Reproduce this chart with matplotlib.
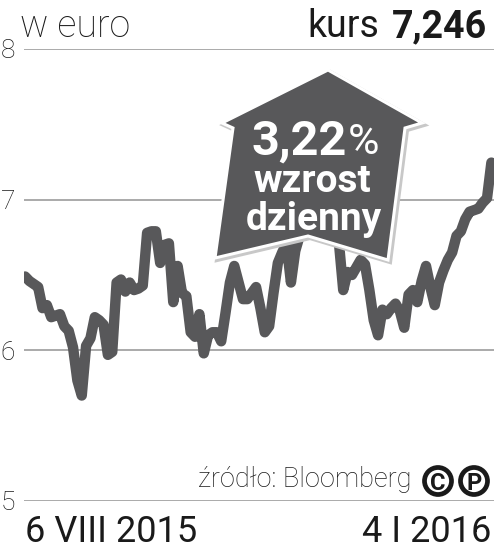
"""
Kurs dzienny (w euro) z okresu 6 VIII 2015 - 4 I 2016
"""

import matplotlib
matplotlib.use('Agg')
import matplotlib.pyplot as plt
import numpy as np
import pandas as pd
from matplotlib import font_manager
from matplotlib.patches import Polygon, Circle

plt.rcParams['font.family'] = ['Roboto', 'DejaVu Sans']

# dane
start_date = '2015-08-06'
end_date = '2016-01-04'
values = [
    6.49, 6.46, 6.44, 6.42, 6.28, 6.30, 6.22, 6.23, 6.24, 6.16,
    6.13, 6.02, 5.80, 5.70, 6.03, 6.08, 6.22, 6.20, 6.17, 5.97,
    5.99, 6.45, 6.47, 6.39, 6.45, 6.40, 6.41, 6.43, 6.78, 6.79,
    6.79, 6.58, 6.70, 6.71, 6.32, 6.56, 6.38, 6.36, 6.12, 6.09,
    6.24, 5.98, 6.10, 6.12, 6.12, 6.06, 6.25, 6.45, 6.56, 6.45,
    6.34, 6.34, 6.38, 6.42, 6.28, 6.12, 6.16, 6.38, 6.58, 6.65,
    6.71, 6.45, 6.66, 6.76, 6.84, 6.92, 6.88, 6.95, 6.90, 6.86,
    6.93, 6.88, 6.72, 6.40, 6.52, 6.50, 6.55, 6.60, 6.57, 6.40,
    6.20, 6.10, 6.27, 6.24, 6.28, 6.31, 6.26, 6.15, 6.37, 6.40,
    6.32, 6.46, 6.56, 6.42, 6.30, 6.45, 6.53, 6.60, 6.65, 6.76,
    6.79, 6.87, 6.92, 6.93, 6.94, 6.98, 7.01, 7.246,
]
y_ticks = [5, 6, 7, 8]
x_labels = ['6 VIII 2015', '4 I 2016']
last_value = '7,246'
daily_change = '3,22'

W, H = 497, 551
LINE = '#58585a'
TXT = '#1a1a1a'

names = {f.name for f in font_manager.fontManager.ttflist}
narrow = 'Liberation Sans Narrow' if 'Liberation Sans Narrow' in names else 'Roboto'


def fx(px):
    return px / W


def fy(py):
    return 1 - py / H


fig = plt.figure(figsize=(W / 100, H / 100), dpi=100)
ax = fig.add_axes([fx(24), fy(501), 470 / W, 452 / H])

days = pd.bdate_range(start_date, end_date)
x = np.arange(len(days))
ax.plot(x, values[:len(x)], color=LINE, lw=7.5,
        solid_joinstyle='round', solid_capstyle='round', zorder=3)

for t in y_ticks:
    ax.axhline(t, color='#aaaaaa', lw=1.4, zorder=1)

ax.set_ylim(5, 8)
ax.set_xlim(-0.25, len(x) - 1 + 0.6)
for s in ax.spines.values():
    s.set_visible(False)

ax.set_yticks(y_ticks)
ax.set_yticklabels([str(t) for t in y_ticks], fontsize=19, fontweight='light', color=TXT)
ax.yaxis.set_tick_params(length=0, pad=6.5)

ax.set_xticks([0, len(x) - 1])
ax.set_xticklabels(x_labels, fontsize=26, color=TXT)
ax.xaxis.set_tick_params(length=0, pad=9)
xl = ax.get_xticklabels()
xl[0].set_ha('left')
xl[1].set_ha('right')

# naglowek
fig.text(fx(20), fy(37), 'w euro', fontsize=27, fontweight='light', color=TXT, va='baseline')
fig.text(fx(379), fy(37), 'kurs', fontsize=27, color=TXT, va='baseline', ha='right')
fig.text(fx(487), fy(37), last_value, fontsize=27, fontweight='bold', color=TXT,
         va='baseline', ha='right', family=[narrow, 'Roboto'])

# strzalka
arrow_px = [(328, 70), (422, 123), (405, 128), (388, 260), (308, 236),
            (215, 258), (233, 128), (222, 123)]
shadow = Polygon([(fx(a + 2), fy(b + 2)) for a, b in arrow_px], closed=True,
                 transform=fig.transFigure, fc='#c8c8c8', ec='#c8c8c8', lw=3, zorder=5)
arrow = Polygon([(fx(a), fy(b)) for a, b in arrow_px], closed=True,
                transform=fig.transFigure, fc='#58585a', ec='white', lw=2.2, zorder=6)
fig.add_artist(shadow)
fig.add_artist(arrow)

fig.text(fx(347), fy(155), daily_change, fontsize=35, fontweight='bold', color='white',
         va='baseline', ha='right', zorder=7, family=[narrow, 'Roboto'])
fig.text(fx(348), fy(154), '%', fontsize=31, color='white',
         va='baseline', ha='left', zorder=7)
fig.text(fx(312), fy(192), 'wzrost', fontsize=28, fontweight='bold', color='white',
         va='baseline', ha='center', zorder=7, family=[narrow, 'Roboto'])
fig.text(fx(314), fy(230), 'dzienny', fontsize=28, fontweight='bold', color='white',
         va='baseline', ha='center', zorder=7, family=[narrow, 'Roboto'])

# zrodlo
fig.text(fx(412), fy(487), 'źródło: Bloomberg', fontsize=19.5, fontweight='light',
         color=TXT, va='baseline', ha='right')
for cx, letter in [(438, 'C'), (474, 'P')]:
    fig.add_artist(Circle((cx / 100, (H - 481) / 100), 0.135, transform=fig.dpi_scale_trans,
                          fc='white', ec=TXT, lw=3.4, zorder=5))
    fig.text(fx(cx), fy(481), letter, fontsize=17, fontweight='bold', color=TXT,
             ha='center', va='center_baseline', zorder=6)

fig.savefig('out.png', dpi=100)
